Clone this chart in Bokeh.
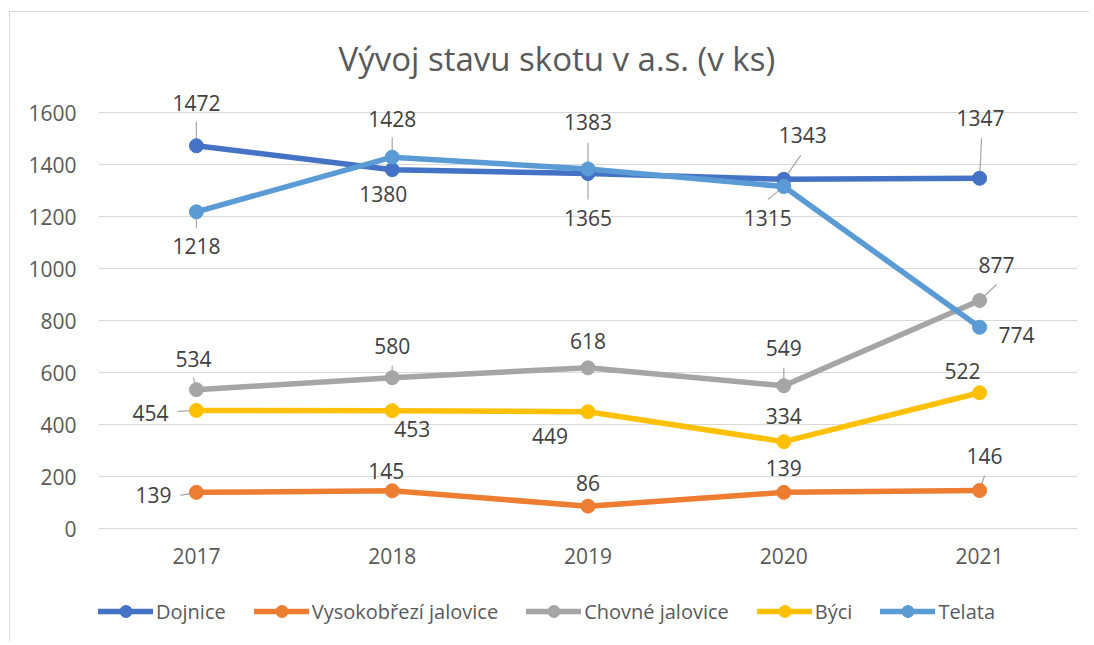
from bokeh.plotting import figure
from bokeh.models import Range1d, FixedTicker, Legend, LegendItem, ColumnDataSource
from bokeh.embed import file_html
from bokeh.resources import INLINE
from bokeh.core.properties import value

# ---------------- data ----------------
years = ["2017", "2018", "2019", "2020", "2021"]
series_names = ["Dojnice", "Vysokobřezí jalovice", "Chovné jalovice", "Býci", "Telata"]
dojnice = [1472, 1380, 1365, 1343, 1347]
vysokobrezi = [139, 145, 86, 139, 146]
chovne = [534, 580, 618, 549, 877]
byci = [454, 453, 449, 334, 522]
telata = [1218, 1428, 1383, 1315, 774]
y_ticks = [0, 200, 400, 600, 800, 1000, 1200, 1400, 1600]

# ---------------- styles ----------------
colors = ["#4472C4", "#ED7D31", "#A5A5A5", "#FFC000", "#5B9BD5"]
# label offsets in pixels (dx right, dy down) relative to each point
label_dx = [
    [0, -9, 0, 19, 1],
    [-43, -6, 0, 0, 5],
    [-3, 0, 0, 0, 17],
    [-46, 20, -38, 0, -17],
    [0, 0, 0, -16, 37],
]
label_dy = [
    [-43, 24, 44, -44, -60],
    [3, -20, -23, -24, -35],
    [-31, -32, -27, -38, -35],
    [3, 18, 24, -26, -22],
    [34, -38, -47, 31, 8],
]
# leader line end offsets in pixels (None = no leader line)
leader = [
    [(0, -24), None, (0, 26), (17, -24), (2, -40)],
    [(-16, 3), None, None, None, (5, -15)],
    [(-3, -12), (0, -12), None, (0, -18), (17, -16)],
    [(-19, 1), None, None, None, None],
    [(0, 16), (0, -20), (0, -26), (-16, 13), None],
]

W, H = 1080, 630
B_L, B_R, B_T, B_B = 88, 13, 76, 5
ZERO_PX = 516          # canvas row of value 0
TOP_GRID_PX = 100      # canvas row of top tick
PX_PER_Y = (ZERO_PX - TOP_GRID_PX) / y_ticks[-1]
frame_w = W - B_L - B_R
PX_PER_X = frame_w / len(years)
y_min = -((H - B_B) - ZERO_PX) / PX_PER_Y
y_max = y_ticks[-1] + (TOP_GRID_PX - B_T) / PX_PER_Y

FONT = "Open Sans"

p = figure(width=W, height=H, output_backend="svg", toolbar_location=None,
           x_range=Range1d(-0.5, len(years) - 0.5), y_range=Range1d(y_min, y_max),
           min_border_left=B_L, min_border_right=B_R, min_border_top=B_T,
           min_border_bottom=B_B)
p.styles = {"margin-left": "9px", "margin-top": "11px",
            "border-left": "1px solid #D9D9D9", "border-top": "1px solid #D9D9D9"}
p.background_fill_color = "white"
p.border_fill_color = "white"
p.outline_line_color = None

# title
p.title.text = "Vývoj stavu skotu v a.s. (v ks)"
p.title.align = "left"
p.title.offset = 240
p.title.standoff = 15
p.title.text_font = FONT
p.title.text_font_size = "33px"
p.title.text_font_style = "normal"
p.title.text_color = "#595959"

# axes
xt = FixedTicker(ticks=list(range(len(years))))
p.xaxis.ticker = xt
p.xaxis.major_label_overrides = {i: y for i, y in enumerate(years)}
p.xaxis.fixed_location = 0
yt = FixedTicker(ticks=y_ticks)
p.yaxis.ticker = yt
for ax in (p.xaxis, p.yaxis):
    ax.axis_line_color = None
    ax.major_tick_line_color = None
    ax.minor_tick_line_color = None
    ax.major_label_text_font = FONT
    ax.major_label_text_font_size = "21px"
    ax.major_label_text_color = "#595959"
p.yaxis.major_label_standoff = 16
p.xaxis.major_label_standoff = 13
p.xgrid.grid_line_color = None
p.ygrid.ticker = yt
p.ygrid.grid_line_color = "#D9D9D9"
p.ygrid.grid_line_width = 1

all_series = [dojnice, vysokobrezi, chovne, byci, telata]
xs = list(range(len(years)))

# leader lines
lx0, ly0, lx1, ly1 = [], [], [], []
for s, vals in enumerate(all_series):
    for i, v in enumerate(vals):
        ld = leader[s][i]
        if ld is None:
            continue
        lx0.append(i)
        ly0.append(v)
        lx1.append(i + ld[0] / PX_PER_X)
        ly1.append(v - ld[1] / PX_PER_Y)
p.segment(x0=lx0, y0=ly0, x1=lx1, y1=ly1, line_color="#A6A6A6", line_width=1.2)

items = []
for s, vals in enumerate(all_series):
    src = ColumnDataSource(dict(x=xs, y=vals))
    lr = p.line("x", "y", source=src, line_color=colors[s], line_width=5.5,
                line_join="round", line_cap="round")
    sr = p.scatter("x", "y", source=src, size=14, marker="circle",
                   fill_color=colors[s], line_color=colors[s])
    items.append(LegendItem(label=series_names[s], renderers=[lr, sr]))

for s, vals in enumerate(all_series):
    tsrc = ColumnDataSource(dict(x=xs, y=vals, t=[str(v) for v in vals],
                                 dx=label_dx[s], dy=label_dy[s]))
    p.text("x", "y", text="t", source=tsrc, x_offset="dx", y_offset="dy",
           text_font=value(FONT), text_font_size="21px", text_color="#404040",
           text_align="center", text_baseline="middle")

legend = Legend(items=items, orientation="horizontal", location=(0, 11),
                glyph_width=55, glyph_height=30, label_height=20,
                label_standoff=3, spacing=28, padding=0, margin=0,
                label_text_font=FONT, label_text_font_size="20px",
                label_text_color="#595959", border_line_color=None,
                background_fill_alpha=0)
p.add_layout(legend, "center")

open("out.html", "w").write(file_html(p, INLINE))
